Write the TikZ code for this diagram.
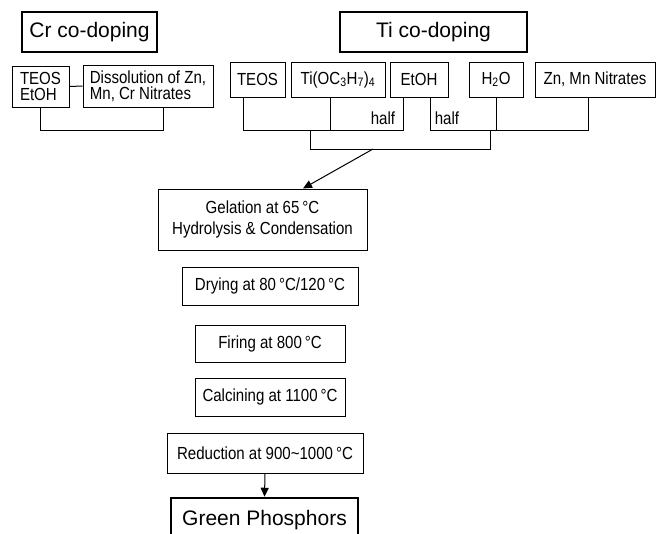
\documentclass[tikz,border=0pt]{standalone}
\usepackage{fontspec}
\setmainfont{Liberation Sans}
\newfontfamily\narrowfont{Liberation Sans}[FakeStretch=0.86]
\usetikzlibrary{arrows.meta,positioning}
\begin{document}
\begin{tikzpicture}[x=1pt,y=-1pt,box/.style={draw,line width=1pt,align=center,inner sep=2pt,font=\narrowfont\fontsize{17.5}{16}\selectfont},head/.style={draw,line width=2.5pt,inner sep=2pt,font=\fontsize{21}{24}\selectfont},lbl/.style={inner sep=0pt,font=\narrowfont\fontsize{17.5}{16}\selectfont},conn/.style={line width=1pt},arr/.style={-{Triangle[length=9pt,width=8pt]},line width=1pt}]
\clip (0,0) rectangle (666,533);
\node[head,minimum width=135pt,minimum height=40pt] (crhead) at (89.5,32) {Cr co-doping};
\node[head,minimum width=187pt,minimum height=40pt] (tihead) at (433.5,32) {Ti co-doping};
\node[box,minimum width=57pt,minimum height=41pt,align=left] (crteos) at (40.5,86.5) {TEOS\\EtOH};
\node[box,minimum width=130pt,minimum height=42pt,align=left] (crnit) at (148,86) {Dissolution of Zn,\\Mn, Cr Nitrates};
\node[box,minimum width=55pt,minimum height=35pt] (teos) at (257.5,79.5) {TEOS};
\node[box,minimum width=94pt,minimum height=35pt] (tipr) at (338,79.5) {Ti(OC\textsubscript{3}H\textsubscript{7})\textsubscript{4}};
\node[box,minimum width=58pt,minimum height=35pt] (etoh) at (419,79.5) {EtOH};
\node[box,minimum width=54pt,minimum height=35pt] (water) at (496,79.5) {H\textsubscript{2}O};
\node[box,minimum width=120pt,minimum height=35pt] (znmn) at (595,79.5) {Zn, Mn Nitrates};
\node[lbl] (halfl) at (383,118) {half};
\node[lbl] (halfr) at (447,118) {half};
\node[box,minimum width=209pt,minimum height=61pt,font=\narrowfont\fontsize{17.5}{21}\selectfont] (gel) at (262.5,219.5) {Gelation at 65\,°C\\Hydrolysis \& Condensation};
\node[box,minimum width=176pt,minimum height=38pt] (dry) at (270,286) {Drying at 80\,°C/120\,°C};
\node[box,minimum width=150pt,minimum height=37pt] (fire) at (270,343.5) {Firing at 800\,°C};
\node[box,minimum width=150pt,minimum height=38pt] (calc) at (270,397) {Calcining at 1100\,°C};
\node[box,minimum width=196pt,minimum height=40pt] (red) at (265,453) {Reduction at 900\textasciitilde 1000\,°C};
\node[head,minimum width=187pt,minimum height=44pt] (green) at (264.5,520) {Green Phosphors};
% Cr branch
\draw[conn] (crteos.east) -- (crnit.west);
\draw[conn] (crteos.south) -- ++(0,23) -| ([xshift=15pt]crnit.south);
% Ti branch, EtOH split in halves
\draw[conn] ([xshift=-14.5pt]teos.south) -- ++(0,33) -| ([xshift=-16pt]etoh.south);
\draw[conn] ([xshift=-8pt]tipr.south) -- ++(0,33);
\draw[conn] ([xshift=11pt]etoh.south) -- ++(0,33) -| ([xshift=-7pt]znmn.south);
\draw[conn] (water.south) -- ++(0,33);
\coordinate (joinl) at (310,130);
\coordinate (joinr) at (490,130);
\coordinate (joinm) at (373,149);
\draw[conn] (joinl) -- ++(0,19) -| (joinr);
\draw[arr] (joinm) -- ([xshift=40.5pt]gel.north);
\draw[arr] (red.south) -- (green.north);
\end{tikzpicture}
\end{document}
